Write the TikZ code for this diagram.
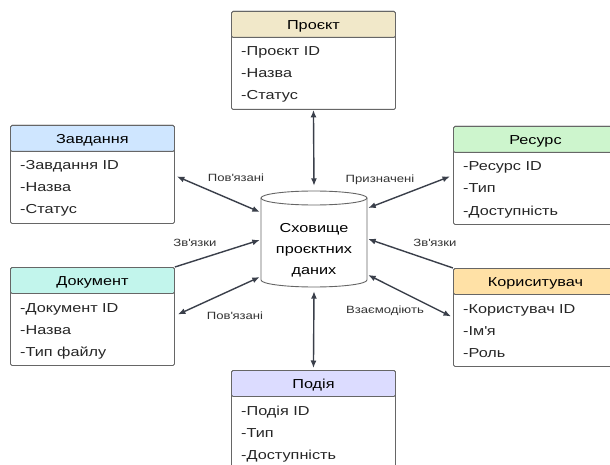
\documentclass[tikz,border=0pt]{standalone}
\usepackage{fontspec}
\setmainfont{Liberation Sans}[FakeStretch=1.25]
\usetikzlibrary{calc,arrows.meta}
\definecolor{cproj}{HTML}{F1E8C9}
\definecolor{ctask}{HTML}{CFE6FF}
\definecolor{cres}{HTML}{CDF5CD}
\definecolor{cdoc}{HTML}{C2F5EC}
\definecolor{cuser}{HTML}{FFE1A6}
\definecolor{cevent}{HTML}{DCDCFF}
\definecolor{boxline}{HTML}{666666}
\definecolor{arrowc}{HTML}{3A3F4A}
\definecolor{labelc}{HTML}{333333}
\tikzset{
  boxbody/.style={draw=boxline, fill=white, rounded corners=1.5pt, minimum width=164pt, minimum height=98pt, inner sep=0pt, line width=0.9pt, anchor=north west},
  boxhead/.style={draw=boxline, rounded corners=1.5pt, minimum width=164pt, minimum height=26pt, inner sep=0pt, line width=0.9pt, anchor=north west, font=\fontsize{13}{15}\selectfont, text height=9.3pt, text depth=0pt},
  attr/.style={anchor=base west, inner sep=0pt, font=\fontsize{13}{15}\selectfont, text=black!85},
  conn/.style={draw=arrowc, line width=1.4pt},
  bothway/.style={conn, {Latex[length=7.5pt,width=6pt]}-{Latex[length=7.5pt,width=6pt]}},
  oneway/.style={conn, -{Latex[length=7.5pt,width=6pt]}},
  lbl/.style={font=\fontsize{10.5}{12}\selectfont, text=labelc, inner sep=1pt},
  cylline/.style={draw=boxline, line width=0.9pt},
}
\newcommand\erbox[7]{%
  \node[boxbody] (#1) at (#2) {};
  \node[boxhead, fill=#3] (#1-h) at (#1.north west) {#4};
  \node[attr] (#1-a) at ($(#1.north west)+(10,45)$) {#5};
  \node[attr] (#1-b) at ($(#1.north west)+(10,67)$) {#6};
  \node[attr] (#1-c) at ($(#1.north west)+(10,89)$) {#7};
}
\begin{document}
\begin{tikzpicture}[x=1pt,y=-1pt]
\useasboundingbox (0,0) rectangle (610,465);
\fill[white] (0,0) rectangle (610,465);
\clip (0,0) rectangle (610,465);

% boxes
\erbox{proj}{231,11}{cproj}{Проєкт}{-Проєкт ID}{-Назва}{-Статус}
\erbox{task}{10,125}{ctask}{Завдання}{-Завдання ID}{-Назва}{-Статус}
\erbox{res}{453,126}{cres}{Ресурс}{-Ресурс ID}{-Тип}{-Доступність}
\erbox{doc}{10,267}{cdoc}{Документ}{-Документ ID}{-Назва}{-Тип файлу}
\erbox{user}{453,268}{cuser}{Кориситувач}{-Користувач ID}{-Ім\textquotesingle я}{-Роль}
\erbox{event}{231,370}{cevent}{Подія}{-Подія ID}{-Тип}{-Доступність}

% cylinder
\fill[white] (261,198) -- (261,280) arc[start angle=180, end angle=0, x radius=53, y radius=7] -- (367,198) -- cycle;
\draw[cylline] (261,198) -- (261,280) arc[start angle=180, end angle=0, x radius=53, y radius=7] -- (367,198);
\draw[cylline] (314,198) ellipse [x radius=53, y radius=7];
\node[minimum width=106pt, minimum height=96pt, inner sep=0pt] (cyl) at (314,239) {};
\node[align=center, font=\fontsize{13}{21}\selectfont, inner sep=0pt] (cyltext) at (314,250) {Сховище\\проєктних\\даних};

% connectors
\draw[bothway] (proj.south) -- ([yshift=5pt]cyl.north);
\draw[bothway] ([yshift=-4pt]cyl.south) -- ([yshift=2pt]event.north);
\draw[bothway] ([xshift=2pt,yshift=-2pt]task.east) -- ([yshift=27pt,xshift=-1pt]cyl.west);
\draw[bothway] ([xshift=-3pt,yshift=-1pt]res.west) -- ([yshift=31pt,xshift=1pt]cyl.east);
\draw[oneway] (doc.north east) -- ([yshift=-1pt,xshift=-1pt]cyl.west);
\draw[bothway] ([xshift=3pt,yshift=2pt]doc.east) -- ([yshift=-38pt,xshift=-1pt]cyl.west);
\draw[oneway] (user.north west) -- ([xshift=1pt]cyl.east);
\draw[bothway] ([xshift=1pt,yshift=-36pt]cyl.east) -- ([xshift=-2pt,yshift=1pt]user.west);

% labels
\node[lbl] (l1) at (236,178) {Пов\textquotesingle язані};
\node[lbl] (l2) at (380,180) {Призначені};
\node[lbl] (l3) at (195,243) {Зв\textquotesingle язки};
\node[lbl] (l4) at (235,316) {Пов\textquotesingle язані};
\node[lbl] (l5) at (435,243) {Зв\textquotesingle язки};
\node[lbl] (l6) at (385,311) {Взаємодіють};
\end{tikzpicture}
\end{document}
